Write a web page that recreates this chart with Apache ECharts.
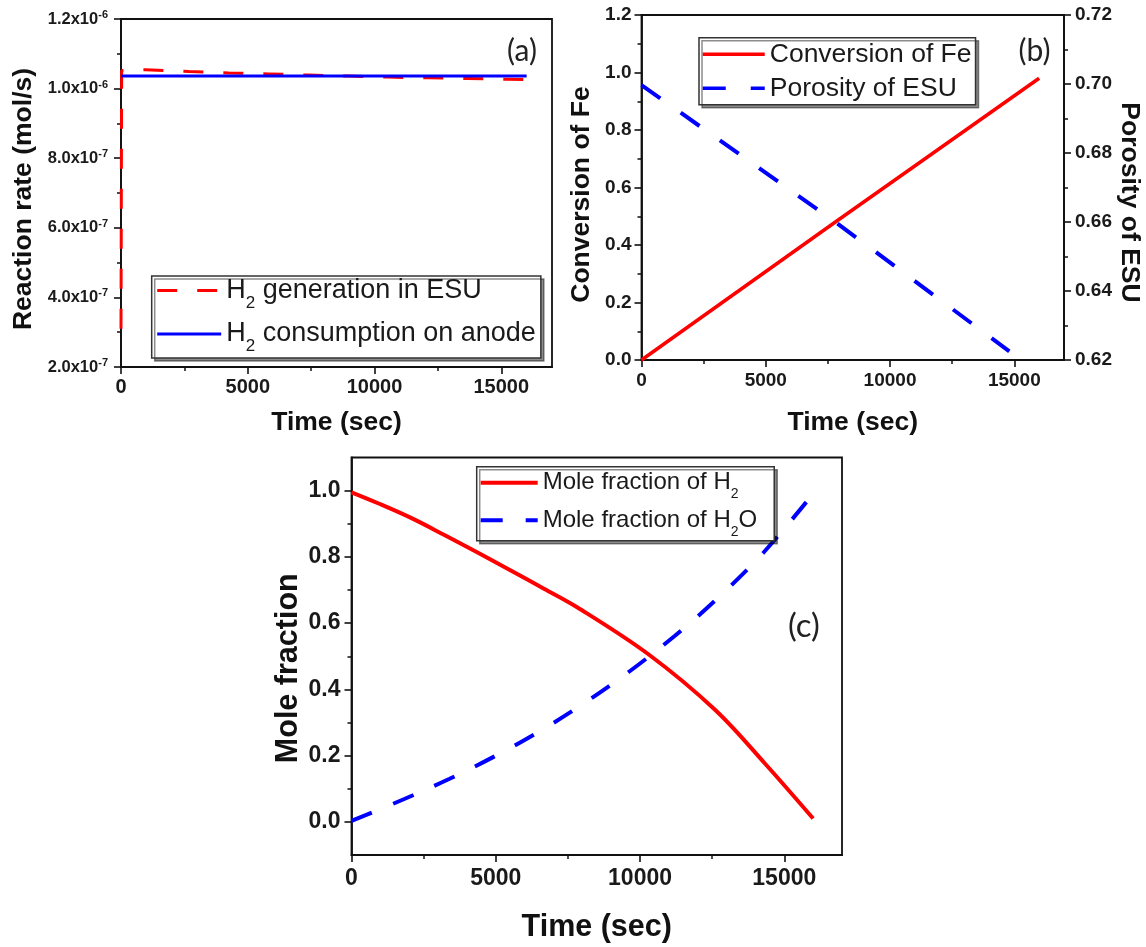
<!DOCTYPE html>
<html><head><meta charset="utf-8">
<script src="https://cdn.jsdelivr.net/npm/echarts@6/dist/echarts.min.js"></script>
<style>html,body{margin:0;padding:0;background:#fff}#chart{width:1146px;height:947px}</style>
</head><body><div id="chart"></div>
<script>
// ---------- data: panel (a) ----------
const genTime = [0, 25, 960, 2680, 4250, 5820, 7390, 8960, 10530, 12100, 13680, 15250, 16000];
const genRate = [3.1e-7, 1.052e-6, 1.054e-6, 1.049e-6, 1.045e-6, 1.042e-6, 1.039e-6, 1.036e-6, 1.033e-6, 1.031e-6, 1.029e-6, 1.027e-6, 1.026e-6];
const consTime = [0, 16000];
const consRate = [1.036e-6, 1.036e-6];
// ---------- data: panel (b) ----------
const convTime = [0, 7800, 16000];
const convFe = [0, 0.48, 0.98];
const poroTime = [0, 7800, 14800];
const poroESU = [0.6997, 0.660, 0.6225];
// ---------- data: panel (c) ----------
const h2Time = [0, 920, 2080, 3220, 4370, 5520, 6670, 7820, 10290, 12590, 14320, 16000];
const h2Frac = [0.995, 0.962, 0.917, 0.866, 0.813, 0.759, 0.704, 0.648, 0.506, 0.339, 0.177, 0.010];
const h2oTime = [0, 1830, 3400, 4940, 6490, 8060, 9630, 11210, 12750, 14290, 15920];
const h2oFrac = [0.003, 0.069, 0.130, 0.197, 0.272, 0.358, 0.454, 0.562, 0.680, 0.814, 0.982];
// ---------- tick labels ----------
const xTicks = [0, 5000, 10000, 15000];
const xMinor = [2500, 7500, 12500];
const aYTicks = [2e-7, 4e-7, 6e-7, 8e-7, 1e-6, 1.2e-6];
const aYMinor = [3e-7, 5e-7, 7e-7, 9e-7, 1.1e-6];
const bYTicks = [0, 0.2, 0.4, 0.6, 0.8, 1.0, 1.2];
const bYMinor = [0.1, 0.3, 0.5, 0.7, 0.9, 1.1];
const bY2Ticks = [0.62, 0.64, 0.66, 0.68, 0.70, 0.72];
const bY2Minor = [0.63, 0.65, 0.67, 0.69, 0.71];
const cYTicks = [0, 0.2, 0.4, 0.6, 0.8, 1.0];
const cYMinor = [0.1, 0.3, 0.5, 0.7, 0.9];

const FONT = '"Liberation Sans", Arial, sans-serif';
const AX = '#111';
const zip = (a, b) => a.map((t, i) => [t, b[i]]);

function mainX(grid, fs, nameFs, nameGap, margin) {
  return {
    type: 'value', gridIndex: grid, min: 0, max: 17000, position: 'bottom',
    name: 'Time (sec)', nameLocation: 'middle', nameGap: nameGap,
    nameTextStyle: { fontFamily: FONT, fontWeight: 'bold', fontSize: nameFs, color: '#111' },
    axisLine: { show: true, onZero: false, lineStyle: { color: AX, width: 1.8 } },
    axisTick: { show: true, inside: false, length: 7, customValues: xTicks, lineStyle: { color: AX, width: 1.6 } },
    axisLabel: { customValues: xTicks, margin: margin, formatter: v => String(v), fontFamily: FONT, fontWeight: 'bold', fontSize: fs, color: '#1a1a1a' },
    splitLine: { show: false }
  };
}
function minorX(grid) {
  return {
    type: 'value', gridIndex: grid, min: 0, max: 17000, position: 'bottom', offset: 0,
    axisLine: { show: false, onZero: false },
    axisTick: { show: true, inside: false, length: 4, customValues: xMinor, lineStyle: { color: AX, width: 1.5 } },
    axisLabel: { show: false }, splitLine: { show: false }
  };
}
function mainY(grid, pos, min, max, ticks, fmt, fs, name, nameFs, nameGap, nameRotate, margin, namePad, rich) {
  return {
    type: 'value', gridIndex: grid, min: min, max: max, position: pos,
    name: name, nameLocation: 'middle', nameGap: nameGap, nameRotate: nameRotate,
    nameTextStyle: { fontFamily: FONT, fontWeight: 'bold', fontSize: nameFs, color: '#111', padding: namePad },
    axisLine: { show: true, onZero: false, lineStyle: { color: AX, width: 1.8 } },
    axisTick: { show: true, inside: false, length: 7, customValues: ticks, lineStyle: { color: AX, width: 1.6 } },
    axisLabel: { customValues: ticks, margin: margin, formatter: fmt, fontFamily: FONT, fontWeight: 'bold', fontSize: fs, color: '#1a1a1a', rich: rich },
    splitLine: { show: false }
  };
}
function minorY(grid, pos, min, max, ticks) {
  return {
    type: 'value', gridIndex: grid, min: min, max: max, position: pos, offset: 0,
    axisLine: { show: false, onZero: false },
    axisTick: { show: true, inside: false, length: 4, customValues: ticks, lineStyle: { color: AX, width: 1.5 } },
    axisLabel: { show: false }, splitLine: { show: false }
  };
}
const sciFmt = v => {
  const e = Math.floor(Math.log10(v) + 1e-9);
  const m = v / Math.pow(10, e);
  return '{m|' + m.toFixed(1) + 'x10}{e|' + e + '}';
};
const sciRich = {
  m: { fontFamily: FONT, fontWeight: 'bold', fontSize: 16.5, lineHeight: 19, color: '#1a1a1a' },
  e: { fontFamily: FONT, fontWeight: 'bold', fontSize: 11, lineHeight: 8, verticalAlign: 'top', color: '#1a1a1a' }
};

const legendNames = {
  'H2 generation in ESU': '{n|H}{s|2}{n| generation in ESU}',
  'H2 consumption on anode': '{n|H}{s|2}{n| consumption on anode}',
  'Conversion of Fe': '{n|Conversion of Fe}',
  'Porosity of ESU': '{n|Porosity of ESU}',
  'Mole fraction of H2': '{n|Mole fraction of H}{s|2}',
  'Mole fraction of H2O': '{n|Mole fraction of H}{s|2}{n|O}'
};
function legendRich(fs, lh, subFs, subLh) {
  return {
    n: { fontFamily: FONT, fontSize: fs, lineHeight: lh, color: '#1a1a1a' },
    s: { fontFamily: FONT, fontSize: subFs, lineHeight: subLh, verticalAlign: 'bottom', color: '#1a1a1a' }
  };
}
function legendBox(names, left, top, itemWidth, itemGap, padding, lineW, rich) {
  return {
    show: true, orient: 'vertical', left: left, top: top, data: names,
    itemWidth: itemWidth, itemHeight: 14, itemGap: itemGap, padding: padding,
    selectedMode: false,
    itemStyle: { opacity: 0 },
    lineStyle: { width: lineW },
    borderColor: '#333', borderWidth: 1.5, backgroundColor: '#fff',
    shadowColor: 'rgba(0,0,0,0.45)', shadowOffsetX: 3, shadowOffsetY: 3, shadowBlur: 0,
    formatter: n => legendNames[n],
    textStyle: { fontFamily: FONT, color: '#1a1a1a', rich: rich }
  };
}

const RED = '#ff0000', BLUE = '#0000ff';
const option = {
  animation: false,
  backgroundColor: '#fff',
  grid: [
    { left: 121, top: 19, width: 431, height: 348, show: true, borderColor: AX, borderWidth: 1.8, backgroundColor: 'transparent' },
    { left: 641.5, top: 15, width: 422.5, height: 345, show: true, borderColor: AX, borderWidth: 1.8, backgroundColor: 'transparent' },
    { left: 351.5, top: 457.5, width: 490.5, height: 397.5, show: true, borderColor: AX, borderWidth: 1.8, backgroundColor: 'transparent' }
  ],
  xAxis: [
    mainX(0, 20, 26.5, 42, 10),
    mainX(1, 19, 26.5, 49, 11),
    mainX(2, 23, 30.5, 57, 12),
    minorX(0), minorX(1), minorX(2)
  ],
  yAxis: [
    mainY(0, 'left', 2e-7, 1.2e-6, aYTicks, sciFmt, 16.5, 'Reaction rate (mol/s)', 26.5, 84, 90, 13, [0, 12, 0, 0], sciRich),
    mainY(1, 'left', 0, 1.2, bYTicks, v => v.toFixed(1), 19, 'Conversion of Fe', 26.5, 46, 90, 10, [0, 14, 0, 0]),
    mainY(1, 'right', 0.62, 0.72, bY2Ticks, v => v.toFixed(2), 19, 'Porosity of ESU', 26.5, 52, -90, 11, [0, 0, 0, 30]),
    mainY(2, 'left', -0.1, 1.1, cYTicks, v => v.toFixed(1), 23, 'Mole fraction', 30.5, 47, 90, 11, [0, 24, 0, 0]),
    minorY(0, 'left', 2e-7, 1.2e-6, aYMinor),
    minorY(1, 'left', 0, 1.2, bYMinor),
    minorY(1, 'right', 0.62, 0.72, bY2Minor),
    minorY(2, 'left', -0.1, 1.1, cYMinor)
  ],
  legend: [
    legendBox(['H2 generation in ESU', 'H2 consumption on anode'], 151.7, 276, 64, 9, [1, 5, 3, 4], 3, legendRich(27, 30, 17, 42)),
    legendBox(['Conversion of Fe', 'Porosity of ESU'], 699, 37.7, 62, 7, [3, 4, 3, 2], 3.5, legendRich(26.5, 28, 16, 28)),
    legendBox(['Mole fraction of H2', 'Mole fraction of H2O'], 476.7, 466.7, 57, 7, [4, 17, 2, 2], 4, legendRich(24, 26, 14, 37))
  ],
  series: [
    { type: 'line', name: 'H2 generation in ESU', xAxisIndex: 0, yAxisIndex: 0, data: zip(genTime, genRate),
      symbol: 'none', showSymbol: false, lineStyle: { color: RED, width: 3, type: [20, 20] }, itemStyle: { color: RED } },
    { type: 'line', name: 'H2 consumption on anode', xAxisIndex: 0, yAxisIndex: 0, data: zip(consTime, consRate),
      symbol: 'none', showSymbol: false, lineStyle: { color: BLUE, width: 3 }, itemStyle: { color: BLUE } },
    { type: 'line', name: 'Conversion of Fe', xAxisIndex: 1, yAxisIndex: 1, data: zip(convTime, convFe),
      symbol: 'none', showSymbol: false, lineStyle: { color: RED, width: 3.5 }, itemStyle: { color: RED } },
    { type: 'line', name: 'Porosity of ESU', xAxisIndex: 1, yAxisIndex: 2, data: zip(poroTime, poroESU),
      symbol: 'none', showSymbol: false, lineStyle: { color: BLUE, width: 4, type: [23, 25] }, itemStyle: { color: BLUE } },
    { type: 'line', name: 'Mole fraction of H2', xAxisIndex: 2, yAxisIndex: 3, data: zip(h2Time, h2Frac),
      symbol: 'none', showSymbol: false, smooth: 0.35, lineStyle: { color: RED, width: 4 }, itemStyle: { color: RED } },
    { type: 'line', name: 'Mole fraction of H2O', xAxisIndex: 2, yAxisIndex: 3, data: zip(h2oTime, h2oFrac),
      symbol: 'none', showSymbol: false, smooth: 0.35, lineStyle: { color: BLUE, width: 4, type: [22, 23] }, itemStyle: { color: BLUE } }
  ],
  graphic: [
    { type: 'text', x: 522, y: 51, style: { text: '(a)', fontFamily: 'Lato, "Open Sans", sans-serif', fontSize: 30, fill: '#222', align: 'center', verticalAlign: 'middle' } },
    { type: 'text', x: 1034.5, y: 51, style: { text: '(b)', fontFamily: 'Lato, "Open Sans", sans-serif', fontSize: 30, fill: '#222', align: 'center', verticalAlign: 'middle' } },
    { type: 'text', x: 803.8, y: 626.5, style: { text: '(c)', fontFamily: 'Lato, "Open Sans", sans-serif', fontSize: 33, fill: '#222', align: 'center', verticalAlign: 'middle' } }
  ]
};
const chart = echarts.init(document.getElementById('chart'), null, { renderer: 'canvas', width: 1146, height: 947 });
chart.setOption(option);
</script>
</body></html>
